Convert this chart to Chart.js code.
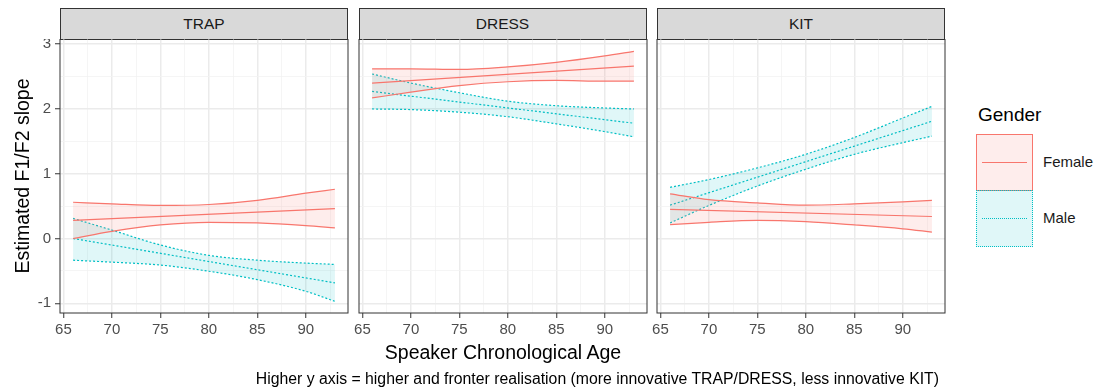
<!DOCTYPE html>
<html><head><meta charset="utf-8">
<script src="https://cdn.jsdelivr.net/npm/chart.js@4.4.1/dist/chart.umd.min.js"></script>
<style>
body{margin:0;width:1101px;height:392px;background:#fff;position:relative;overflow:hidden;font-family:'Liberation Sans',Arial,sans-serif;}
.strip{position:absolute;top:8px;height:32px;box-sizing:border-box;border:1px solid #333;background:#D9D9D9;color:#1A1A1A;font-size:15.5px;display:flex;align-items:center;justify-content:center;}
.pane{position:absolute;top:39px;width:351px;height:314px;}
.t{position:absolute;white-space:nowrap;}
</style></head><body>
<script>
// ---- data ----
const facets = ['TRAP', 'DRESS', 'KIT'];
const genders = ['Female', 'Male'];
const ages = [66, 70, 75, 80, 85, 90, 93];
const meanAges = [66, 93];
const xTicks = [65, 70, 75, 80, 85, 90];
const yTicks = [-1, 0, 1, 2, 3];

const trapFemaleUpper = [0.56, 0.535, 0.51, 0.525, 0.59, 0.70, 0.76];
const trapFemaleLower = [0.00, 0.11, 0.21, 0.25, 0.24, 0.20, 0.165];
const trapFemaleMean  = [0.28, 0.46];
const trapMaleUpper   = [0.31, 0.13, -0.10, -0.26, -0.335, -0.38, -0.40];
const trapMaleLower   = [-0.335, -0.365, -0.41, -0.505, -0.635, -0.815, -0.97];
const trapMaleMean    = [0.00, -0.685];

const dressFemaleUpper = [2.62, 2.62, 2.61, 2.65, 2.72, 2.82, 2.89];
const dressFemaleLower = [2.17, 2.26, 2.36, 2.42, 2.44, 2.43, 2.43];
const dressFemaleMean  = [2.40, 2.66];
const dressMaleUpper   = [2.54, 2.40, 2.25, 2.12, 2.05, 2.015, 2.00];
const dressMaleLower   = [2.00, 1.99, 1.95, 1.88, 1.77, 1.65, 1.57];
const dressMaleMean    = [2.27, 1.78];

const kitFemaleUpper = [0.69, 0.60, 0.55, 0.515, 0.535, 0.565, 0.59];
const kitFemaleLower = [0.215, 0.25, 0.28, 0.26, 0.21, 0.15, 0.10];
const kitFemaleMean  = [0.45, 0.34];
const kitMaleUpper   = [0.79, 0.91, 1.09, 1.30, 1.56, 1.86, 2.04];
const kitMaleLower   = [0.24, 0.51, 0.81, 1.07, 1.30, 1.48, 1.58];
const kitMaleMean    = [0.515, 1.81];

// ---- styling ----
const panelLefts = [60, 358.5, 657];
const colFemale = '#F8766D', colMale = '#00BFC4';
const fillFemale = 'rgba(248,118,109,0.13)', fillMale = 'rgba(0,191,196,0.12)';
const FONT = "'Liberation Sans', Arial, sans-serif";

const facetData = {
  TRAP:  {Female: [trapFemaleLower, trapFemaleUpper, trapFemaleMean], Male: [trapMaleLower, trapMaleUpper, trapMaleMean]},
  DRESS: {Female: [dressFemaleLower, dressFemaleUpper, dressFemaleMean], Male: [dressMaleLower, dressMaleUpper, dressMaleMean]},
  KIT:   {Female: [kitFemaleLower, kitFemaleUpper, kitFemaleMean], Male: [kitMaleLower, kitMaleUpper, kitMaleMean]}
};

const pts = (xs, ys) => xs.map((x, i) => ({x: x, y: ys[i]}));
const isMajor = v => Math.abs(v - Math.round(v / 5) * 5) < 1e-6;

const borderPlugin = {
  id: 'panelBorder',
  afterDatasetsDraw(chart) {
    const a = chart.chartArea, c = chart.ctx;
    c.save(); c.strokeStyle = '#333333'; c.lineWidth = 1;
    c.strokeRect(a.left, a.top, a.right - a.left, a.bottom - a.top);
    c.restore();
  }
};

facets.forEach((f, idx) => {
  const left = panelLefts[idx];
  const strip = document.createElement('div');
  strip.className = 'strip';
  strip.style.left = left + 'px'; strip.style.width = '288px';
  strip.textContent = f;
  document.body.appendChild(strip);

  const pane = document.createElement('div');
  pane.className = 'pane';
  pane.style.left = (left - 55) + 'px';
  const cv = document.createElement('canvas');
  pane.appendChild(cv);
  document.body.appendChild(pane);

  const datasets = [];
  genders.forEach(g => {
    const [lo, up, mn] = facetData[f][g];
    const col = g === 'Female' ? colFemale : colMale;
    const fill = g === 'Female' ? fillFemale : fillMale;
    const dash = g === 'Female' ? [] : [2, 2];
    const base = {borderColor: col, borderWidth: 1.2, borderDash: dash, pointRadius: 0, cubicInterpolationMode: 'monotone'};
    datasets.push(Object.assign({label: g + ' lower', data: pts(ages, lo), fill: false}, base));
    datasets.push(Object.assign({label: g + ' upper', data: pts(ages, up), fill: '-1', backgroundColor: fill}, base));
    datasets.push(Object.assign({label: g, data: pts(meanAges, mn), fill: false}, base, {cubicInterpolationMode: 'default'}));
  });

  new Chart(cv, {
    type: 'line',
    data: {datasets: datasets},
    plugins: [borderPlugin],
    options: {
      responsive: true, maintainAspectRatio: false, animation: false,
      layout: {padding: {left: 0, right: 8, top: 0, bottom: 0}},
      plugins: {legend: {display: false}, tooltip: {enabled: false}},
      scales: {
        x: {
          type: 'linear', min: 64.65, max: 94.35,
          afterBuildTicks: s => { const t = []; for (let v = 65; v <= 92.5; v += 2.5) t.push({value: v}); s.ticks = t; },
          afterFit: s => { s.height = 40; s.paddingLeft = 0; s.paddingRight = 0; },
          ticks: {autoSkip: false, maxRotation: 0, padding: 3, color: '#4D4D4D', font: {family: FONT, size: 15},
                  callback: v => (isMajor(v) && xTicks.includes(v)) ? String(v) : ''},
          grid: {
            color: c => isMajor(c.tick.value) ? '#EBEBEB' : '#F3F3F3',
            lineWidth: c => isMajor(c.tick.value) ? 1.5 : 0.8,
            tickColor: c => isMajor(c.tick.value) ? '#333333' : 'rgba(0,0,0,0)',
            tickLength: 5, tickWidth: 1
          },
          border: {display: false}
        },
        y: {
          type: 'linear', min: -1.15, max: 3.08,
          afterBuildTicks: s => { const t = []; for (let v = -1; v <= 3; v += 0.5) t.push({value: v}); s.ticks = t; },
          afterFit: s => { s.width = 55; s.paddingTop = 0; s.paddingBottom = 0; },
          ticks: {display: idx === 0, autoSkip: false, padding: 4, color: '#4D4D4D', font: {family: FONT, size: 15},
                  callback: v => (Number.isInteger(v) && yTicks.includes(v)) ? String(v) : ''},
          grid: {
            color: c => Number.isInteger(c.tick.value) ? '#EBEBEB' : '#F3F3F3',
            lineWidth: c => Number.isInteger(c.tick.value) ? 1.5 : 0.8,
            tickColor: c => (idx === 0 && Number.isInteger(c.tick.value)) ? '#333333' : 'rgba(0,0,0,0)',
            tickLength: 5, tickWidth: 1
          },
          border: {display: false}
        }
      }
    }
  });
});
</script>

<div class="t" style="left:-128px;top:164px;width:300px;height:24px;line-height:24px;text-align:center;font-size:19.5px;color:#000;transform:rotate(-90deg);">Estimated F1/F2 slope</div>
<div class="t" style="left:60px;top:340px;width:886px;line-height:24px;text-align:center;font-size:19.5px;color:#000;">Speaker Chronological Age</div>
<div class="t" style="left:0;top:369px;width:939px;line-height:20px;text-align:right;font-size:15.8px;color:#000;">Higher y axis = higher and fronter realisation (more innovative TRAP/DRESS, less innovative KIT)</div>

<div class="t" style="left:978px;top:104px;line-height:22px;font-size:19px;color:#000;">Gender</div>
<div class="t" style="left:976px;top:134px;width:57px;height:57px;box-sizing:border-box;border:1px solid #F8766D;background:rgba(248,118,109,0.13);"></div>
<div class="t" style="left:982px;top:162px;width:45px;height:0;border-top:1.2px solid #F8766D;"></div>
<div class="t" style="left:976px;top:190px;width:57px;height:57px;box-sizing:border-box;border:1px dotted #00BFC4;background:rgba(0,191,196,0.12);"></div>
<div class="t" style="left:982px;top:218px;width:45px;height:0;border-top:1.2px dotted #00BFC4;"></div>
<div class="t" style="left:1043px;top:152px;line-height:20px;font-size:15px;color:#1A1A1A;">Female</div>
<div class="t" style="left:1043px;top:208px;line-height:20px;font-size:15px;color:#1A1A1A;">Male</div>
</body></html>
